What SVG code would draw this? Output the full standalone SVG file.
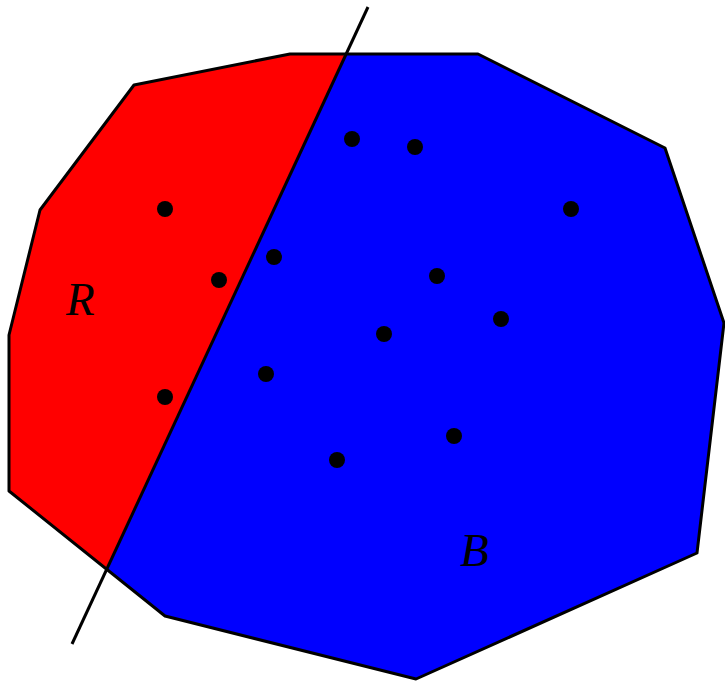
<svg xmlns="http://www.w3.org/2000/svg" width="725" height="681" viewBox="0 0 725 681">
<style>
.edge{stroke:#000;stroke-width:3;stroke-linejoin:round;fill:none}
.pt{fill:#000}
.lbl{font-family:"Liberation Serif",serif;font-style:italic;font-size:47px;fill:#000}
</style>
<g id="regionR">
<polygon points="346,54 290,54 134,85 40,210 9,335 9,491 107,570" fill="#ff0000"/>
</g>
<g id="regionB">
<polygon points="346,54 478,54 665,148 724,323 697,553 416,679 165,616 107,570" fill="#0000ff"/>
</g>
<g id="outline">
<polygon class="edge" points="134,85 290,54 478,54 665,148 724,323 697,553 416,679 165,616 9,491 9,335 40,210"/>
</g>
<g id="connectors">
<line class="edge" x1="368" y1="7" x2="72" y2="644"/>
</g>
<g id="points">
<circle class="pt" cx="352" cy="139" r="8"/>
<circle class="pt" cx="415" cy="147" r="8"/>
<circle class="pt" cx="571" cy="209" r="8"/>
<circle class="pt" cx="165" cy="209" r="8"/>
<circle class="pt" cx="274" cy="257" r="8"/>
<circle class="pt" cx="219" cy="280" r="8"/>
<circle class="pt" cx="437" cy="276" r="8"/>
<circle class="pt" cx="501" cy="319" r="8"/>
<circle class="pt" cx="384" cy="334" r="8"/>
<circle class="pt" cx="266" cy="374" r="8"/>
<circle class="pt" cx="165" cy="397" r="8"/>
<circle class="pt" cx="454" cy="436" r="8"/>
<circle class="pt" cx="337" cy="460" r="8"/>
</g>
<g id="labelR"><text class="lbl" x="66" y="315">R</text></g>
<g id="labelB"><text class="lbl" x="460" y="566">B</text></g>
</svg>
